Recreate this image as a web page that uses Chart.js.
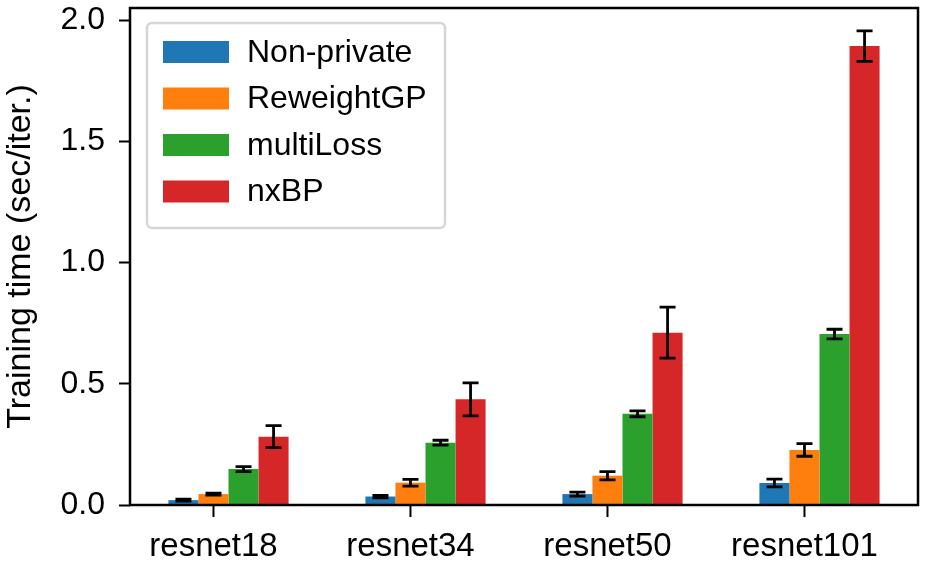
<!DOCTYPE html>
<html>
<head>
<meta charset="utf-8">
<script src="https://cdn.jsdelivr.net/npm/chart.js@4.4.1/dist/chart.umd.min.js"></script>
<style>
  body { margin: 0; background: #fff; }
  #wrap { width: 925px; height: 572px; }
</style>
</head>
<body>
<div id="wrap"><canvas id="timeChart" width="925" height="572"></canvas></div>
<script>
const models = ["resnet18", "resnet34", "resnet50", "resnet101"];
const seriesNames = ["Non-private", "ReweightGP", "multiLoss", "nxBP"];
const nonPrivate = [0.020, 0.035, 0.045, 0.091];
const nonPrivateErr = [0.004, 0.005, 0.008, 0.016];
const reweightGP = [0.045, 0.092, 0.121, 0.227];
const reweightGPErr = [0.004, 0.014, 0.017, 0.026];
const multiLoss = [0.148, 0.257, 0.376, 0.705];
const multiLossErr = [0.010, 0.010, 0.012, 0.020];
const nxBP = [0.282, 0.436, 0.711, 1.893];
const nxBPErr = [0.045, 0.068, 0.105, 0.063];
const yTicks = [0.0, 0.5, 1.0, 1.5, 2.0];

const colors = ["#1f77b4", "#ff7f0e", "#2ca02c", "#d62728"];
const FONT = "'Liberation Sans', Arial, sans-serif";

// error bars, drawn from the bars that chart.js laid out
const errorBars = {
    id: "errorBars",
    afterDatasetsDraw(chart) {
        const ctx = chart.ctx;
        const y = chart.scales.y;
        ctx.save();
        ctx.strokeStyle = "#000";
        chart.data.datasets.forEach((ds, di) => {
            const meta = chart.getDatasetMeta(di);
            meta.data.forEach((bar, i) => {
                const v = ds.data[i], e = ds.errors[i];
                const top = y.getPixelForValue(v + e);
                const bot = y.getPixelForValue(v - e);
                ctx.lineWidth = 2.8;
                ctx.beginPath();
                ctx.moveTo(bar.x, top);
                ctx.lineTo(bar.x, bot);
                ctx.moveTo(bar.x - 8, top);
                ctx.lineTo(bar.x + 8, top);
                ctx.moveTo(bar.x - 8, bot);
                ctx.lineTo(bar.x + 8, bot);
                ctx.stroke();
            });
        });
        ctx.restore();
    }
};

// axes frame, x tick marks, and the legend box
const frame = {
    id: "frame",
    afterDraw(chart) {
        const ctx = chart.ctx;
        const a = chart.chartArea;
        ctx.save();
        ctx.strokeStyle = "#000";
        ctx.lineWidth = 2.5;
        ctx.strokeRect(a.left, a.top, a.right - a.left, a.bottom - a.top);

        // x ticks sit under the second bar of each group
        const meta = chart.getDatasetMeta(1);
        ctx.lineWidth = 2;
        meta.data.forEach(bar => {
            ctx.beginPath();
            ctx.moveTo(bar.x, a.bottom);
            ctx.lineTo(bar.x, a.bottom + 12);
            ctx.stroke();
        });

        // legend
        const lx = a.left + 17, ly = a.top + 15, lw = 298, lh = 205;
        ctx.fillStyle = "rgba(255,255,255,0.8)";
        ctx.strokeStyle = "#d6d6d6";
        ctx.lineWidth = 2.5;
        ctx.beginPath();
        ctx.roundRect(lx, ly, lw, lh, 5);
        ctx.fill();
        ctx.stroke();
        ctx.font = "32px " + FONT;
        ctx.textBaseline = "middle";
        chart.data.datasets.forEach((ds, i) => {
            const ry = ly + 29 + i * 46.5;
            ctx.fillStyle = ds.backgroundColor;
            ctx.fillRect(lx + 16, ry - 11, 66, 22);
            ctx.fillStyle = "#000";
            ctx.fillText(ds.label, lx + 100, ry + 1);
        });
        ctx.restore();
    }
};

const values = [nonPrivate, reweightGP, multiLoss, nxBP];
const errors = [nonPrivateErr, reweightGPErr, multiLossErr, nxBPErr];

const ctx = document.getElementById("timeChart").getContext("2d");
new Chart(ctx, {
    type: "bar",
    data: {
        labels: models,
        datasets: seriesNames.map((name, i) => ({
            label: name,
            data: values[i],
            errors: errors[i],
            backgroundColor: colors[i],
            borderWidth: 0,
            categoryPercentage: 0.61,
            barPercentage: 1.0
        }))
    },
    options: {
        responsive: false,
        animation: false,
        layout: { padding: { top: 8, right: 7, left: 0, bottom: 0 } },
        plugins: {
            legend: { display: false },
            tooltip: { enabled: false }
        },
        scales: {
            x: {
                grid: { display: false, drawTicks: false },
                border: { display: false },
                ticks: {
                    color: "#000",
                    font: { family: FONT, size: 33 },
                    labelOffset: -15,
                    padding: 22
                },
                afterFit(scale) {
                    scale.height = 67;
                    scale.paddingLeft = 0;
                    scale.paddingRight = 0;
                }
            },
            y: {
                min: 0,
                max: 2.05,
                afterBuildTicks(scale) {
                    scale.ticks = yTicks.map(v => ({ value: v }));
                },
                grid: {
                    drawOnChartArea: false,
                    drawTicks: true,
                    tickLength: 11,
                    tickWidth: 2,
                    tickColor: "#000"
                },
                border: { display: false },
                ticks: {
                    color: "#000",
                    font: { family: FONT, size: 32 },
                    padding: 14,
                    callback: v => Number(v).toFixed(1)
                },
                title: {
                    display: true,
                    text: "Training time (sec/iter.)",
                    color: "#000",
                    font: { family: FONT, size: 34 },
                    padding: { top: 0, bottom: 0 }
                },
                afterFit(scale) {
                    scale.width = 130;
                    scale.paddingTop = 0;
                    scale.paddingBottom = 0;
                }
            }
        }
    },
    plugins: [errorBars, frame]
});
</script>
</body>
</html>
